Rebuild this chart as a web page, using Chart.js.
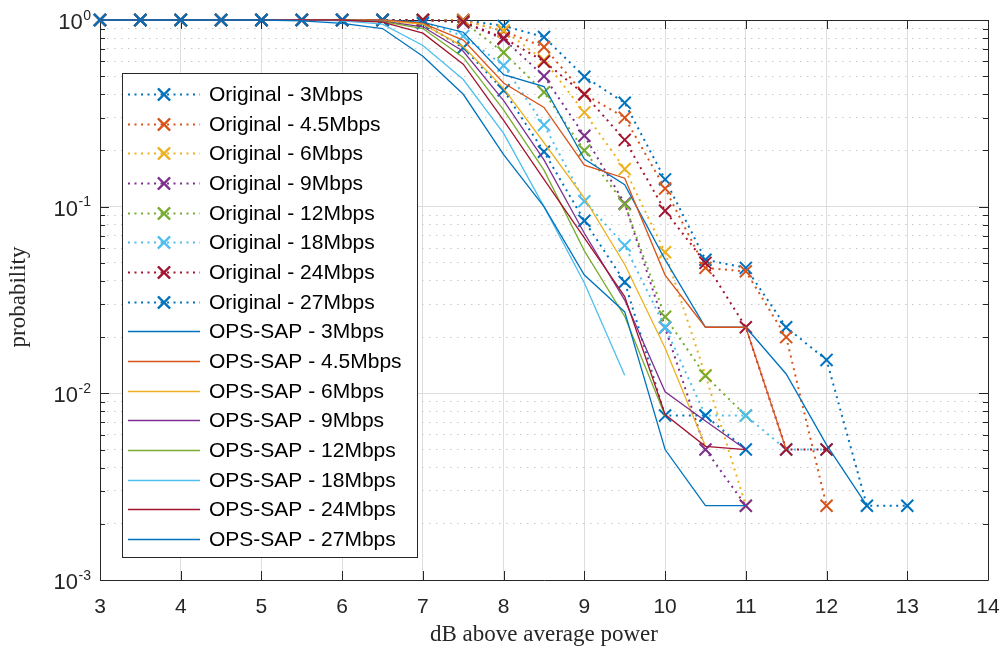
<!DOCTYPE html>
<html>
<head>
<meta charset="utf-8">
<script src="https://cdn.jsdelivr.net/npm/chart.js@4.4.1/dist/chart.umd.min.js"></script>
<style>
html,body{margin:0;padding:0;background:#ffffff;}
#wrap{width:1003px;height:653px;position:relative;}
</style>
</head>
<body>
<div id="wrap"><canvas id="c" width="1003" height="653"></canvas></div>
<script>
// ---- data ----
const xSteps = [3,3.5,4,4.5,5,5.5,6,6.5,7,7.5,8,8.5,9,9.5,10,10.5,11,11.5,12,12.5,13];
const rateLabels = ['3Mbps','4.5Mbps','6Mbps','9Mbps','12Mbps','18Mbps','24Mbps','27Mbps'];
const xTickValues = [3,4,5,6,7,8,9,10,11,12,13,14];
const yTickExponents = [0,-1,-2,-3];

const original_3Mbps   = [1,1,1,1,1,1,1,1,1,1, 0.93,0.81,0.497,0.36,0.14,0.052,0.047,0.0226,0.0151,0.0025,0.0025];
const original_4_5Mbps = [1,1,1,1,1,1,1,1,1,1, 0.87,0.717,0.40,0.30,0.125,0.047,0.045,0.02,0.0025,null,null];
const original_6Mbps   = [1,1,1,1,1,1,1,1,1,0.99, 0.88,0.61,0.32,0.159,0.057,0.0125,0.0025,null,null,null,null];
const original_9Mbps   = [1,1,1,1,1,1,1,1,1,0.97, 0.79,0.5,0.24,0.104,0.0225,0.005,0.0025,null,null,null,null];
const original_12Mbps  = [1,1,1,1,1,1,1,1,1,0.98, 0.67,0.41,0.2,0.103,0.0257,0.0124,0.0076,null,null,null,null];
const original_18Mbps  = [1,1,1,1,1,1,1,1,0.98,0.82, 0.57,0.274,0.107,0.062,0.0226,0.0076,0.0076,0.005,0.005,null,null];
const original_24Mbps  = [1,1,1,1,1,1,1,1,1,0.98, 0.8,0.6,0.4,0.228,0.095,0.05,0.0226,0.005,0.005,null,null];
const original_27Mbps  = [1,1,1,1,1,1,1,1,0.96,0.71, 0.42,0.197,0.084,0.0395,0.0076,0.0076,0.005,null,null,null,null];

const opssap_3Mbps   = [1,1,1,1,1,1,1,1,0.97,0.86, 0.51,0.44,0.18,0.131,0.052,0.0226,0.0226,0.0127,0.0053,0.0025,null];
const opssap_4_5Mbps = [1,1,1,1,1,1,1,1,0.96,0.78, 0.46,0.34,0.167,0.142,0.043,0.0226,0.0226,0.005,null,null,null];
const opssap_6Mbps   = [1,1,1,1,1,1,1,0.99,0.95,0.72, 0.43,0.22,0.111,0.049,0.0175,0.0052,null,null,null,null,null];
const opssap_9Mbps   = [1,1,1,1,1,1,1,0.985,0.92,0.68, 0.37,0.178,0.072,0.0316,0.0102,0.0071,0.005,null,null,null,null];
const opssap_12Mbps  = [1,1,1,1,1,1,1,0.98,0.9,0.63, 0.33,0.157,0.058,0.0258,0.0076,null,null,null,null,null,null];
const opssap_18Mbps  = [1,1,1,1,1,1,0.99,0.95,0.73,0.48, 0.247,0.1,0.039,0.0125,null,null,null,null,null,null,null];
const opssap_24Mbps  = [1,1,1,1,1,1,1,0.975,0.85,0.58, 0.29,0.14,0.068,0.033,0.0077,0.0052,0.005,null,null,null,null];
const opssap_27Mbps  = [1,1,1,1,1,0.99,0.96,0.9,0.64,0.4, 0.19,0.1,0.043,0.0273,0.005,0.0025,0.0025,null,null,null,null];

const originalSeries = [original_3Mbps,original_4_5Mbps,original_6Mbps,original_9Mbps,original_12Mbps,original_18Mbps,original_24Mbps,original_27Mbps];
const opssapSeries   = [opssap_3Mbps,opssap_4_5Mbps,opssap_6Mbps,opssap_9Mbps,opssap_12Mbps,opssap_18Mbps,opssap_24Mbps,opssap_27Mbps];

// ---- styling ----
const colors = ['#0072BD','#D95319','#EDB120','#7E2F8E','#77AC30','#4DBEEE','#A2142F','#0072BD'];
const AX = '#262626';
const TICK_FONT = '"Liberation Sans", Arial, Helvetica, sans-serif';
const TITLE_FONT = '"Liberation Serif", "Times New Roman", serif';

function toPoints(vals){
  return xSteps.map((x,i)=>({x:x, y:vals[i]})).filter(p=>p.y!==null && p.y!==undefined);
}

const datasets = [];
originalSeries.forEach((vals,i)=>{
  datasets.push({
    label: 'Original - ' + rateLabels[i],
    data: toPoints(vals),
    borderColor: colors[i],
    backgroundColor: 'rgba(0,0,0,0)',
    borderWidth: 2,
    borderDash: [2,4.5],
    borderCapStyle: 'butt',
    pointStyle: 'crossRot',
    pointRadius: 8.5,
    pointHoverRadius: 8.5,
    pointBorderWidth: 2,
    pointBorderColor: colors[i],
    pointBackgroundColor: 'rgba(0,0,0,0)',
    tension: 0,
    clip: false,
    order: 100 - i
  });
});
opssapSeries.forEach((vals,i)=>{
  datasets.push({
    label: 'OPS-SAP - ' + rateLabels[i],
    data: toPoints(vals),
    borderColor: colors[i],
    backgroundColor: 'rgba(0,0,0,0)',
    borderWidth: 1.3,
    pointRadius: 0,
    pointHoverRadius: 0,
    tension: 0,
    clip: false,
    order: 50 - i
  });
});

function isDecade(v){
  const l = Math.log10(v);
  return Math.abs(l - Math.round(l)) < 1e-9;
}

const matlabPlugin = {
  id: 'matlabAxes',
  beforeDatasetsDraw(chart){
    const ctx = chart.ctx, a = chart.chartArea;
    const xs = chart.scales.x, ys = chart.scales.y;
    ctx.save();
    ctx.strokeStyle = AX;
    ctx.lineWidth = 1;
    ctx.beginPath();
    ctx.rect(Math.round(a.left)+0.5, Math.round(a.top)+0.5, Math.round(a.right-a.left), Math.round(a.bottom-a.top));
    ctx.stroke();
    const tl = 9, tm = 5;
    ctx.beginPath();
    xTickValues.forEach(v=>{
      const px = Math.round(xs.getPixelForValue(v))+0.5;
      ctx.moveTo(px, a.bottom); ctx.lineTo(px, a.bottom - tl);
      ctx.moveTo(px, a.top); ctx.lineTo(px, a.top + tl);
    });
    ys.ticks.forEach(t=>{
      const py = Math.round(ys.getPixelForValue(t.value))+0.5;
      const len = isDecade(t.value) ? tl : tm;
      ctx.moveTo(a.left, py); ctx.lineTo(a.left + len, py);
      ctx.moveTo(a.right, py); ctx.lineTo(a.right - len, py);
    });
    ctx.stroke();
    ctx.restore();
  },
  afterDraw(chart){
    const ctx = chart.ctx, a = chart.chartArea;
    const ys = chart.scales.y;
    ctx.save();
    ctx.fillStyle = AX;
    yTickExponents.forEach(e=>{
      const py = ys.getPixelForValue(Math.pow(10,e));
      const expStr = String(e);
      ctx.font = '14px ' + TICK_FONT;
      const ew = ctx.measureText(expStr).width;
      const right = a.left - 9;
      ctx.textBaseline = 'alphabetic';
      ctx.textAlign = 'left';
      ctx.fillText(expStr, right - ew, py - 0.5);
      ctx.font = '22px ' + TICK_FONT;
      const bw = ctx.measureText('10').width;
      ctx.fillText('10', right - ew - bw - 0.5, py + 9);
    });
    ctx.fillStyle = AX;
    ctx.font = '23px ' + TITLE_FONT;
    ctx.textAlign = 'center';
    ctx.textBaseline = 'middle';
    ctx.fillText('dB above average power', (a.left + a.right)/2, 635);
    ctx.translate(19, (a.top + a.bottom)/2 - 3);
    ctx.rotate(-Math.PI/2);
    ctx.fillText('probability', 0, 0);
    ctx.restore();

    // legend
    ctx.save();
    const L = {x:122, y:73, w:295, h:484};
    ctx.fillStyle = '#ffffff';
    ctx.fillRect(L.x, L.y, L.w, L.h);
    ctx.strokeStyle = AX;
    ctx.lineWidth = 1;
    ctx.strokeRect(L.x+0.5, L.y+0.5, L.w, L.h);
    const ds = chart.data.datasets;
    const rowH = (539 - 94) / (ds.length - 1);
    ds.forEach((d,i)=>{
      const cy = Math.round(94 + i*rowH) + 0.5;
      ctx.strokeStyle = d.borderColor;
      ctx.lineWidth = d.borderWidth;
      ctx.setLineDash(d.borderDash || []);
      ctx.beginPath();
      ctx.moveTo(128, cy); ctx.lineTo(200, cy);
      ctx.stroke();
      ctx.setLineDash([]);
      if (d.pointRadius > 0) {
        Chart.helpers.drawPoint(ctx, {pointStyle:'crossRot', radius:d.pointRadius, borderWidth:d.pointBorderWidth, rotation:0}, 164, cy);
        ctx.lineWidth = d.pointBorderWidth;
        ctx.stroke();
      }
      ctx.fillStyle = '#000000';
      ctx.font = '21px ' + TICK_FONT;
      ctx.textAlign = 'left';
      ctx.textBaseline = 'middle';
      ctx.fillText(d.label, 209, cy + 1);
    });
    ctx.restore();
  }
};

new Chart(document.getElementById('c'), {
  type: 'line',
  data: { datasets: datasets },
  options: {
    responsive: false,
    animation: false,
    devicePixelRatio: 1,
    events: [],
    layout: { padding: { top: 20, right: 15, left: 0, bottom: 0 } },
    plugins: { legend: { display: false }, tooltip: { enabled: false }, title: { display: false } },
    scales: {
      x: {
        type: 'linear', min: 3, max: 14,
        afterBuildTicks(scale){ scale.ticks = xTickValues.map(v=>({value:v})); },
        afterFit(scale){ scale.height = 73; scale.paddingLeft = 0; scale.paddingRight = 0; },
        ticks: { autoSkip: false, maxRotation: 0, color: AX, font: { family: TICK_FONT, size: 21 }, padding: 15 },
        grid: { color: '#dedede', lineWidth: 1, drawTicks: false },
        border: { display: false }
      },
      y: {
        type: 'logarithmic', min: 0.001, max: 1,
        afterBuildTicks(scale){
          const t = [];
          for (let e=-3; e<0; e++) for (let s=1; s<=9; s++) t.push({value: s*Math.pow(10,e)});
          t.push({value:1});
          scale.ticks = t;
        },
        afterFit(scale){ scale.width = 100; },
        ticks: { display: false, autoSkip: false },
        grid: {
          color: (c)=> (c.tick && !isDecade(c.tick.value)) ? '#c8c8c8' : '#dedede',
          lineWidth: 1, drawTicks: false
        },
        border: {
          display: false,
          dash: (c)=> (c.tick && !isDecade(c.tick.value)) ? [1.5,5.5] : []
        }
      }
    }
  },
  plugins: [matlabPlugin]
});
</script>
</body>
</html>
